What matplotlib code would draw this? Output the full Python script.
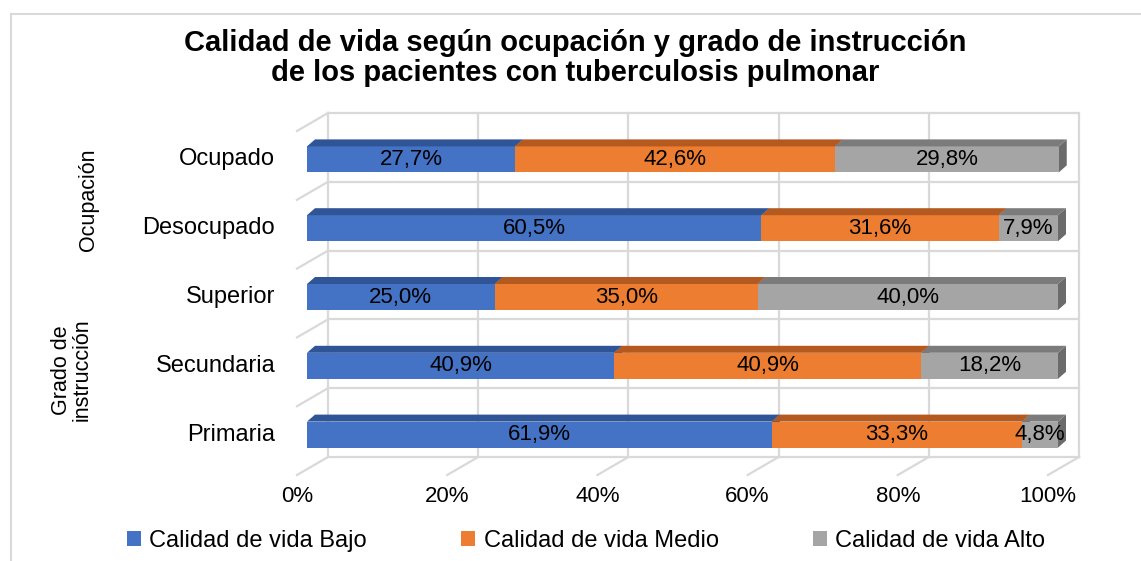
import numpy as np
import matplotlib.pyplot as plt
from matplotlib.patches import Polygon, Patch
from matplotlib.lines import Line2D

# data (bottom to top)
categories = ['Primaria', 'Secundaria', 'Superior', 'Desocupado', 'Ocupado']
bajo = [61.9, 40.9, 25.0, 60.5, 27.7]
medio = [33.3, 40.9, 35.0, 31.6, 42.6]
alto = [4.8, 18.2, 40.0, 7.9, 29.8]
series_names = ['Calidad de vida Bajo', 'Calidad de vida Medio', 'Calidad de vida Alto']
ticks = [0, 20, 40, 60, 80, 100]
tick_labels = ['0%', '20%', '40%', '60%', '80%', '100%']

front_cols = ['#4472C4', '#ED7D31', '#A5A5A5']
top_cols = ['#2F5597', '#B4591F', '#7B7B7B']
side_cols = ['#2F5597', '#B4591F', '#6B6B6B']
grid_col = '#D9D9D9'

W, H = 1141, 561
fig = plt.figure(figsize=(W / 100, H / 100), dpi=100)
plt.rcParams['font.family'] = ['Liberation Sans', 'DejaVu Sans']

# axes box = front floor plane (pixel coords)
x0p, x1p, ytop, ybot = 297, 1048, 131, 475
ax = fig.add_axes([x0p / W, 1 - ybot / H, (x1p - x0p) / W, (ybot - ytop) / H])
ax.set_xlim(0, 100)
ax.set_ylim(-0.5, 4.5)
ax.axis('off')

px_x = (x1p - x0p) / 100.0
px_y = (ybot - ytop) / 5.0
DX, DY = 31 / px_x, 18 / px_y          # full depth (front -> back wall)
BX, BY = 10 / px_x, 6 / px_y           # bar front offset
TX, TY = 8 / px_x, 7 / px_y            # bar depth
bh = 26 / px_y

def line(xs, ys):
    ax.add_line(Line2D(xs, ys, color=grid_col, lw=1.6, clip_on=False, zorder=1))

# back wall, floor and side wall
for t in ticks:
    line([t + DX, t + DX], [-0.5 + DY, 4.5 + DY])
    line([t, t + DX], [-0.5, -0.5 + DY])
for k in range(6):
    line([DX, 100 + DX], [k - 0.5 + DY, k - 0.5 + DY])
for k in range(1, 6):
    line([0, DX], [k - 0.5, k - 0.5 + DY])

# bars
data = np.array([bajo, medio, alto])
for i, cat in enumerate(categories):
    yc = i + BY
    yb, yt = yc - bh / 2, yc + bh / 2
    left = 0.0
    for s in range(3):
        v = data[s, i]
        a, b = left + BX, left + v + BX
        side = Polygon([(b, yb), (b + TX, yb + TY), (b + TX, yt + TY), (b, yt)],
                       closed=True, fc=side_cols[s], ec='none', clip_on=False, zorder=2)
        front = Polygon([(a, yb), (b, yb), (b, yt), (a, yt)],
                        closed=True, fc=front_cols[s], ec='none', clip_on=False, zorder=2)
        top = Polygon([(a, yt), (b, yt), (b + TX, yt + TY), (a + TX, yt + TY)],
                      closed=True, fc=top_cols[s], ec='none', clip_on=False, zorder=2)
        for p in (side, front, top):
            ax.add_patch(p)
        ax.text((a + b) / 2, yc, f"{v:.1f}%".replace('.', ','), ha='center', va='center',
                fontsize=16, color='black', zorder=3)
        left += v
    ax.text(-2.9, i + BY, cat, ha='right', va='center', fontsize=17, color='black')

for t, lab in zip(ticks, tick_labels):
    ax.text(t, -0.5 - 22 / px_y, lab, ha='center', va='center', fontsize=16, color='black')

# group labels
fig.text(88 / W, 1 - 200 / H, 'Ocupación', rotation=90, ha='center', va='center', fontsize=15.5)
fig.text(72 / W, 1 - 370 / H, 'Grado de\ninstrucción', rotation=90, ha='center', va='center',
         fontsize=15.5, linespacing=0.95)

fig.text(575 / W, 1 - 58 / H,
         'Calidad de vida según ocupación y grado de instrucción\nde los pacientes con tuberculosis pulmonar',
         ha='center', va='center', fontsize=21, fontweight='bold', linespacing=1.05)

handles = [Patch(fc=c, ec='none') for c in front_cols]
fig.legend(handles, series_names, loc='center', bbox_to_anchor=(586 / W, 1 - 541 / H), ncol=3,
           frameon=False, fontsize=17, handlelength=0.6, handleheight=0.6,
           handletextpad=0.35, columnspacing=4.0)

# chart area border
fig.add_artist(Line2D([11 / W, 11 / W], [0, 1 - 14 / H], color=grid_col, lw=1.5))
fig.add_artist(Line2D([11 / W, 1], [1 - 14 / H, 1 - 14 / H], color=grid_col, lw=1.5))

fig.savefig('out.png', dpi=100)
